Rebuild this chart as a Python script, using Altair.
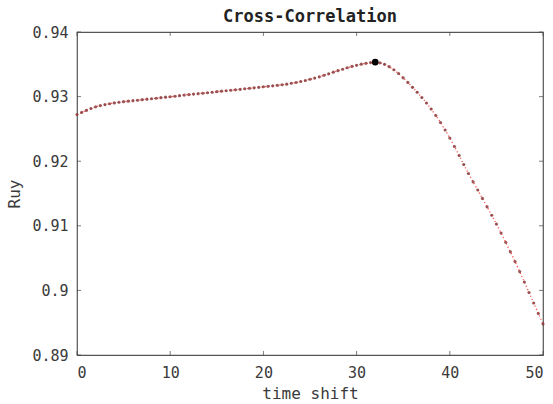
import altair as alt
import pandas as pd

shift = [i * 0.5 for i in range(101)]
ruy = [
    0.92723, 0.92755, 0.92786, 0.92816, 0.92842, 0.92861, 0.92876, 0.92890, 0.92902, 0.92912,
    0.92921, 0.92929, 0.92937, 0.92944, 0.92952, 0.92960, 0.92967, 0.92975, 0.92983, 0.92991,
    0.92998, 0.93006, 0.93014, 0.93023, 0.93031, 0.93039, 0.93046, 0.93052, 0.93060, 0.93068,
    0.93076, 0.93084, 0.93091, 0.93098, 0.93105, 0.93113, 0.93121, 0.93128, 0.93136, 0.93144,
    0.93152, 0.93159, 0.93167, 0.93175, 0.93184, 0.93193, 0.93206, 0.93218, 0.93234, 0.93249,
    0.93268, 0.93286, 0.93306, 0.93330, 0.93353, 0.93378, 0.93401, 0.93424, 0.93447, 0.93467,
    0.93485, 0.93502, 0.93515, 0.93526, 0.93533, 0.93523, 0.93500, 0.93463, 0.93415, 0.93358,
    0.93291, 0.93220, 0.93144, 0.93067, 0.92986, 0.92901, 0.92808, 0.92707, 0.92599, 0.92483,
    0.92359, 0.92228, 0.92088, 0.91949, 0.91810, 0.91681, 0.91554, 0.91424, 0.91294, 0.91163,
    0.91028, 0.90889, 0.90745, 0.90597, 0.90446, 0.90291, 0.90130, 0.89967, 0.89805, 0.89642,
    0.89480,
]
peak_shift = [32.0]
peak_ruy = [0.93533]
x_ticks = [0, 10, 20, 30, 40, 50]
y_ticks = [0.89, 0.90, 0.91, 0.92, 0.93, 0.94]

W, H = 466, 323
FONT = "DejaVu Sans Mono"
TXT = "#3a3a3a"

df = pd.DataFrame({"shift": shift, "ruy": ruy})
pk = pd.DataFrame({"shift": peak_shift, "ruy": peak_ruy})
xt = pd.DataFrame({"v": x_ticks})
yt = pd.DataFrame({"v": y_ticks})

xs = alt.Scale(domain=[0, 50], nice=False, zero=False)
ys = alt.Scale(domain=[0.89, 0.94], nice=False, zero=False)

xaxis = alt.Axis(values=x_ticks, format="d", title="time shift", grid=False, ticks=False,
                 domain=False, labelPadding=10, titlePadding=5,
                 labelFont=FONT, labelFontSize=15, labelColor=TXT,
                 titleFont=FONT, titleFontSize=16, titleColor=TXT, titleFontWeight="normal")
yaxis = alt.Axis(values=y_ticks, labelExpr="format(datum.value, '.3~f')", title="Ruy",
                 grid=False, ticks=False, domain=False, labelPadding=9, titlePadding=9,
                 labelFont=FONT, labelFontSize=15, labelColor=TXT,
                 titleFont=FONT, titleFontSize=16, titleColor=TXT, titleFontWeight="normal")

base = alt.Chart(df)
line = base.mark_line(color="#ff2a2a", strokeWidth=1.3, strokeDash=[1.2, 2.4], opacity=0.8).encode(
    x=alt.X("shift:Q", scale=xs, axis=xaxis),
    y=alt.Y("ruy:Q", scale=ys, axis=yaxis),
)
pts = base.mark_point(filled=True, shape="circle", size=10, color="#8a3a3a", opacity=0.85).encode(
    x=alt.X("shift:Q", scale=xs),
    y=alt.Y("ruy:Q", scale=ys),
)
peak = alt.Chart(pk).mark_point(filled=True, shape="circle", size=44, color="black", opacity=1).encode(
    x=alt.X("shift:Q", scale=xs),
    y=alt.Y("ruy:Q", scale=ys),
)

tick_color = "#444444"
bt = alt.Chart(xt).mark_tick(orient="vertical", size=4, thickness=1, color=tick_color).encode(
    x=alt.X("v:Q", scale=xs), y=alt.value(H - 2))
tt = alt.Chart(xt).mark_tick(orient="vertical", size=4, thickness=1, color=tick_color).encode(
    x=alt.X("v:Q", scale=xs), y=alt.value(2))
lt = alt.Chart(yt).mark_tick(orient="horizontal", size=4, thickness=1, color=tick_color).encode(
    y=alt.Y("v:Q", scale=ys), x=alt.value(2))
rt = alt.Chart(yt).mark_tick(orient="horizontal", size=4, thickness=1, color=tick_color).encode(
    y=alt.Y("v:Q", scale=ys), x=alt.value(W - 2))

chart = alt.layer(line, pts, peak, bt, tt, lt, rt).properties(
    width=W, height=H,
    title=alt.TitleParams("Cross-Correlation", font=FONT, fontSize=17, fontWeight="bold",
                          color="#222222", anchor="middle", offset=4, dy=5),
    autosize=alt.AutoSizeParams(type="none"),
    padding={"left": 77, "top": 32, "right": 10, "bottom": 49},
    background="white",
).configure_view(
    stroke="#555555", strokeWidth=1.2
)

chart.save("out.html", embed_options={"renderer": "svg", "actions": False})
